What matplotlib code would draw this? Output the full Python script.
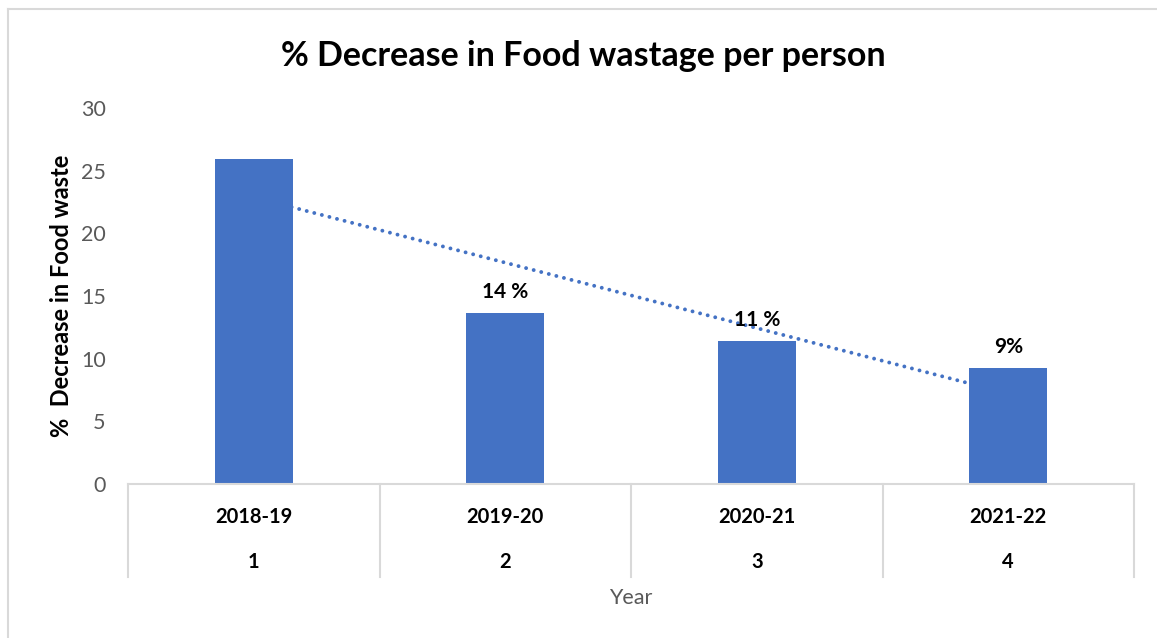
import matplotlib
matplotlib.use("Agg")
import matplotlib.pyplot as plt
import numpy as np
from matplotlib.lines import Line2D

plt.rcParams["font.family"] = ["Lato", "DejaVu Sans"]

years = ["2018-19", "2019-20", "2020-21", "2021-22"]
index_labels = ["1", "2", "3", "4"]
decrease = [25.9, 13.65, 11.4, 9.25]
bar_labels = ["", "14 %", "11 %", "9%"]

BLUE = "#4472C4"
GRID = "#D9D9D9"
GREY = "#595959"

W, H = 1157, 638
fig = plt.figure(figsize=(W / 100, H / 100), dpi=100)
ax = fig.add_axes([128 / W, 1 - 484 / H, (1134 - 128) / W, (484 - 108) / H])

x = np.arange(1, len(years) + 1)

# linear trendline (Excel style), sits behind the bars
coef = np.polyfit(x, decrease, 1)
ax.plot(x, np.polyval(coef, x), color=BLUE, lw=2.8,
        linestyle=(0, (0.01, 2.0)), dash_capstyle="round", zorder=1)

ax.bar(x, decrease, width=0.31, color=BLUE, zorder=2)
for xi, v, lab in zip(x, decrease, bar_labels):
    if lab:
        ax.text(xi, v + 0.9, lab, ha="center", va="bottom",
                fontsize=15, fontweight="bold", color="black", zorder=3)

ax.set_xlim(0.5, len(years) + 0.5)
ax.set_ylim(0, 30)
ax.set_yticks(range(0, 31, 5))
ax.tick_params(axis="y", length=0, labelsize=15.5, labelcolor=GREY, pad=16)
ax.set_xticks([])
for s in ("top", "right", "left"):
    ax.spines[s].set_visible(False)
ax.spines["bottom"].set_color(GRID)
ax.spines["bottom"].set_linewidth(1.5)

# two-row category table below the axis
trans = ax.get_xaxis_transform()
depth = -(577 - 484) / (484 - 108)
row1 = -(517 - 484) / (484 - 108)
row2 = -(562 - 484) / (484 - 108)
for b in np.arange(0.5, len(years) + 1, 1.0):
    ax.add_line(Line2D([b, b], [0, depth], transform=trans, color=GRID,
                       lw=1.5, clip_on=False))
for xi, yr, idx in zip(x, years, index_labels):
    ax.text(xi, row1, yr, transform=trans, ha="center", va="center",
            fontsize=14.5, fontweight="bold")
    ax.text(xi, row2, idx, transform=trans, ha="center", va="center",
            fontsize=14.5, fontweight="bold")

ax.set_ylabel("%  Decrease in Food waste", fontsize=17, fontweight="bold")
ax.yaxis.set_label_coords(-(128 - 73) / (1134 - 128), 0.5)
fig.text((128 + 1134) / 2 / W, 1 - 598 / H, "Year", ha="center", va="center",
         fontsize=15.5, color=GREY)
fig.text(583 / W, 1 - 56 / H, "% Decrease in Food wastage per person",
         ha="center", va="center", fontsize=24.5, fontweight="bold")

# chart frame (only top and left edges are visible in the original)
fig.add_artist(Line2D([8 / W, 1], [1 - 9 / H, 1 - 9 / H], color=GRID, lw=1.5))
fig.add_artist(Line2D([8 / W, 8 / W], [0, 1 - 9 / H], color=GRID, lw=1.5))

fig.savefig("out.png", dpi=100)
